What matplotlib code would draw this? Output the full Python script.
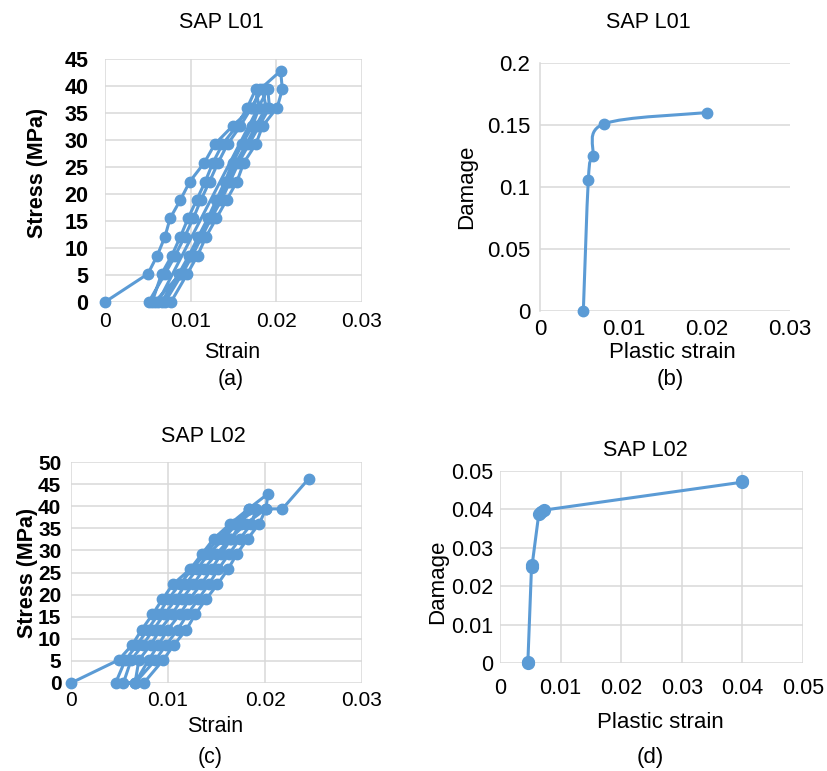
import numpy as np
import matplotlib
matplotlib.use("Agg")
import matplotlib.pyplot as plt
from matplotlib.path import Path
from matplotlib.patches import PathPatch

plt.rcParams['font.family'] = ['Liberation Sans', 'DejaVu Sans']

BLUE = '#5B9BD5'
GRID = '#D9D9D9'

# ---- (a) SAP L01 stress-strain, cyclic loading
strain_a = [0.0000, 0.0050, 0.0061, 0.0070, 0.0076, 0.0088, 0.0099, 0.0116, 0.0128, 0.0149, 0.0172, 0.0181, 0.0205,
            0.0207, 0.0201, 0.0184, 0.0176, 0.0162, 0.0154, 0.0142, 0.0130, 0.0118, 0.0108, 0.0096, 0.0077,
            0.0062, 0.0190,
            0.0192, 0.0180, 0.0168, 0.0156, 0.0146, 0.0136, 0.0124, 0.0113, 0.0102, 0.0090, 0.0070,
            0.0055, 0.0066, 0.0078, 0.0088, 0.0097, 0.0107, 0.0117, 0.0126, 0.0137, 0.0154, 0.0166, 0.0176,
            0.0180, 0.0172, 0.0160, 0.0149, 0.0140, 0.0130, 0.0120, 0.0109, 0.0098, 0.0086, 0.0066,
            0.0051, 0.0070, 0.0082, 0.0093, 0.0103, 0.0112, 0.0122, 0.0132, 0.0143, 0.0158, 0.0171, 0.0184,
            0.0188, 0.0176, 0.0165, 0.0153, 0.0143, 0.0133, 0.0122, 0.0111, 0.0100, 0.0088, 0.0058]
stress_a = [0, 5.2, 8.6, 12.1, 15.5, 18.9, 22.3, 25.8, 29.2, 32.6, 36.0, 39.4, 42.8,
            39.4, 36.0, 32.6, 29.2, 25.8, 22.3, 18.9, 15.5, 12.1, 8.6, 5.2, 0,
            0, 39.4,
            36.0, 32.6, 29.2, 25.8, 22.3, 18.9, 15.5, 12.1, 8.6, 5.2, 0,
            0, 5.2, 8.6, 12.1, 15.5, 18.9, 22.3, 25.8, 29.2, 32.6, 36.0, 39.4,
            36.0, 32.6, 29.2, 25.8, 22.3, 18.9, 15.5, 12.1, 8.6, 5.2, 0,
            0, 5.2, 8.6, 12.1, 15.5, 18.9, 22.3, 25.8, 29.2, 32.6, 36.0, 39.4,
            36.0, 32.6, 29.2, 25.8, 22.3, 18.9, 15.5, 12.1, 8.6, 5.2, 0]

# ---- (b) SAP L01 damage vs plastic strain
pstrain_b = [0.0052, 0.0058, 0.0063, 0.0077, 0.0200]
damage_b = [0.0, 0.106, 0.125, 0.151, 0.160]

# ---- (c) SAP L02 stress-strain
strain_c = [0.0000, 0.0049, 0.0063, 0.0073, 0.0084, 0.0094, 0.0105, 0.0123, 0.0135, 0.0147, 0.0164, 0.0183, 0.0203,
            0.0201, 0.0194, 0.0182, 0.0171, 0.0162, 0.0151, 0.0139, 0.0128, 0.0119, 0.0106, 0.0095, 0.0075,
            0.0046, 0.0056, 0.0068, 0.0079, 0.0090, 0.0100, 0.0112, 0.0125, 0.0138, 0.0152, 0.0168, 0.0183,
            0.0175, 0.0165, 0.0155, 0.0145, 0.0134, 0.0122, 0.0112, 0.0100, 0.0090, 0.0080, 0.0066,
            0.0054, 0.0062, 0.0074, 0.0085, 0.0096, 0.0108, 0.0118, 0.0130, 0.0142, 0.0157, 0.0171, 0.0191,
            0.0186, 0.0174, 0.0163, 0.0152, 0.0142, 0.0131, 0.0120, 0.0110, 0.0098, 0.0087, 0.0066,
            0.0070, 0.0082, 0.0092, 0.0104, 0.0114, 0.0126, 0.0137, 0.0150, 0.0164, 0.0180, 0.0201, 0.0218, 0.0245]
stress_c = [0, 5.2, 8.6, 12.1, 15.5, 18.9, 22.3, 25.8, 29.2, 32.6, 36.0, 39.4, 42.8,
            39.4, 36.0, 32.6, 29.2, 25.8, 22.3, 18.9, 15.5, 12.1, 8.6, 5.2, 0,
            0, 5.2, 8.6, 12.1, 15.5, 18.9, 22.3, 25.8, 29.2, 32.6, 36.0, 39.4,
            36.0, 32.6, 29.2, 25.8, 22.3, 18.9, 15.5, 12.1, 8.6, 5.2, 0,
            0, 5.2, 8.6, 12.1, 15.5, 18.9, 22.3, 25.8, 29.2, 32.6, 36.0, 39.4,
            36.0, 32.6, 29.2, 25.8, 22.3, 18.9, 15.5, 12.1, 8.6, 5.2, 0,
            5.2, 8.6, 12.1, 15.5, 18.9, 22.3, 25.8, 29.2, 32.6, 36.0, 39.4, 39.4, 46.2]

# ---- (d) SAP L02 damage vs plastic strain
pstrain_d = [0.0046, 0.0046, 0.0052, 0.0053, 0.0064, 0.0068, 0.0072, 0.0400, 0.0400]
damage_d = [0.0, 0.0003, 0.0250, 0.0255, 0.0388, 0.0393, 0.0398, 0.0471, 0.0475]

W, H = 827, 771
fig = plt.figure(figsize=(W / 100, H / 100), dpi=100)


def add_ax(l, t, r, b):
    return fig.add_axes([l / W, 1 - b / H, (r - l) / W, (b - t) / H])


def style(ax, xgrid=True):
    for s in ax.spines.values():
        s.set_visible(False)
    ax.grid(True, axis='y', color=GRID, lw=1.1)
    if xgrid:
        ax.grid(True, axis='x', color=GRID, lw=1.1)
    ax.set_axisbelow(True)
    ax.tick_params(length=0)


def txt(x, y, s, **kw):
    fig.text(x / W, 1 - y / H, s, ha='center', va='center', **kw)


# (a)
ax = add_ax(105, 59, 362, 302)
style(ax)
ax.plot(strain_a, stress_a, '-o', color=BLUE, lw=2.2, ms=7.5, clip_on=False)
ax.set_xlim(0, 0.03)
ax.set_ylim(0, 45)
ax.set_xticks([0, 0.01, 0.02, 0.03], ['0', '0.01', '0.02', '0.03'])
ax.set_yticks(range(0, 46, 5))
ax.tick_params(axis='y', pad=12, labelsize=15.5)
ax.tick_params(axis='x', pad=7, labelsize=15)
for lab in ax.get_yticklabels():
    lab.set_fontweight('bold')

# (b)  smoothed line like the spreadsheet's "smooth line" option
ax = add_ax(540, 63, 790, 311)
style(ax, xgrid=False)
ax.spines['left'].set_visible(True)
ax.spines['left'].set_color(GRID)
ax.spines['left'].set_linewidth(1.1)
xn = np.array(pstrain_b) / 0.03
yn = np.array(damage_b) / 0.2
verts = [(xn[0], yn[0])]
codes = [Path.MOVETO]
n = len(xn)
for i in range(n - 1):
    p0 = (xn[max(i - 1, 0)], yn[max(i - 1, 0)])
    p1 = (xn[i], yn[i])
    p2 = (xn[i + 1], yn[i + 1])
    p3 = (xn[min(i + 2, n - 1)], yn[min(i + 2, n - 1)])
    c1 = (p1[0] + (p2[0] - p0[0]) / 6, p1[1] + (p2[1] - p0[1]) / 6)
    c2 = (p2[0] - (p3[0] - p1[0]) / 6, p2[1] - (p3[1] - p1[1]) / 6)
    verts += [c1, c2, p2]
    codes += [Path.CURVE4] * 3
ax.add_patch(PathPatch(Path(verts, codes), transform=ax.transAxes,
                       fill=False, edgecolor=BLUE, lw=2.2))
ax.plot(pstrain_b, damage_b, 'o', color=BLUE, ms=7.5, clip_on=False)
ax.set_xlim(0, 0.03)
ax.set_ylim(0, 0.2)
ax.set_xticks([0, 0.01, 0.02, 0.03], ['0', '0.01', '0.02', '0.03'])
ax.set_yticks([0, 0.05, 0.1, 0.15, 0.2], ['0', '0.05', '0.1', '0.15', '0.2'])
ax.tick_params(axis='y', pad=7, labelsize=16)
ax.tick_params(axis='x', pad=6, labelsize=16)

# (c)
ax = add_ax(71, 462, 362, 683)
style(ax)
ax.plot(strain_c, stress_c, '-o', color=BLUE, lw=2.2, ms=7.5, clip_on=False)
ax.set_xlim(0, 0.03)
ax.set_ylim(0, 50)
ax.set_xticks([0, 0.01, 0.02, 0.03], ['0', '0.01', '0.02', '0.03'])
ax.set_yticks(range(0, 51, 5))
ax.tick_params(axis='y', pad=7, labelsize=15)
ax.tick_params(axis='x', pad=6, labelsize=15)
for lab in ax.get_yticklabels():
    lab.set_fontweight('bold')

# (d)
ax = add_ax(500, 471, 803, 663)
style(ax)
ax.plot(pstrain_d, damage_d, '-o', color=BLUE, lw=2.2, ms=8.5, clip_on=False)
ax.set_xlim(0, 0.05)
ax.set_ylim(0, 0.05)
ax.set_xticks([0, 0.01, 0.02, 0.03, 0.04, 0.05], ['0', '0.01', '0.02', '0.03', '0.04', '0.05'])
ax.set_yticks([0, 0.01, 0.02, 0.03, 0.04, 0.05], ['0', '0.01', '0.02', '0.03', '0.04', '0.05'])
ax.tick_params(axis='y', pad=5, labelsize=15.5)
ax.tick_params(axis='x', pad=11, labelsize=15.5)

# titles and labels
txt(221, 23, 'SAP L01', fontsize=15.5)
txt(648, 23, 'SAP L01', fontsize=15.5)
txt(203, 437, 'SAP L02', fontsize=15.5)
txt(645, 450, 'SAP L02', fontsize=15.5)

txt(37, 173, 'Stress (MPa)', fontsize=15.5, fontweight='bold', rotation=90)
txt(232, 353, 'Strain', fontsize=15.5)
txt(231, 379, '(a)', fontsize=15.5)

txt(467, 187, 'Damage', fontsize=16, rotation=90)
txt(672, 353, 'Plastic strain', fontsize=16)
txt(670, 379, '(b)', fontsize=16)

txt(27, 573, 'Stress (MPa)', fontsize=15.5, fontweight='bold', rotation=90)
txt(215, 726, 'Strain', fontsize=15.5)
txt(210, 758, '(c)', fontsize=15.5)

txt(438, 582, 'Damage', fontsize=16, rotation=90)
txt(660, 722, 'Plastic strain', fontsize=16)
txt(650, 758, '(d)', fontsize=16)

fig.savefig('out.png', dpi=100)
